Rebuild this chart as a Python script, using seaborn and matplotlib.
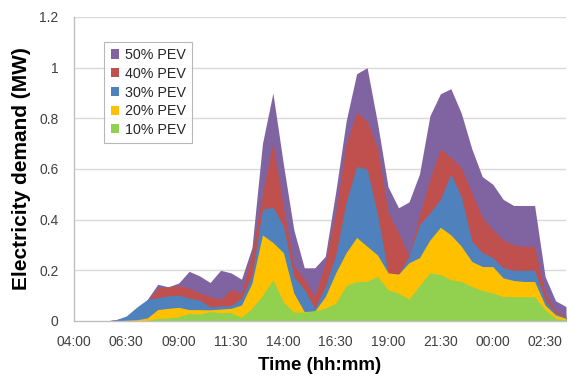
import matplotlib
matplotlib.use("Agg")
import matplotlib.pyplot as plt
from matplotlib.patches import Patch
import seaborn as sns
import pandas as pd

times = ["04:00", "04:30", "05:00", "05:30", "06:00", "06:30", "07:00", "07:30",
         "08:00", "08:30", "09:00", "09:30", "10:00", "10:30", "11:00", "11:30",
         "12:00", "12:30", "13:00", "13:30", "14:00", "14:30", "15:00", "15:30",
         "16:00", "16:30", "17:00", "17:30", "18:00", "18:30", "19:00", "19:30",
         "20:00", "20:30", "21:00", "21:30", "22:00", "22:30", "23:00", "23:30",
         "00:00", "00:30", "01:00", "01:30", "02:00", "02:30", "03:00", "03:30"]

pev50 = [0, 0, 0, 0, 0.005, 0.015, 0.04, 0.085, 0.145, 0.135, 0.15, 0.196,
         0.178, 0.152, 0.2, 0.19, 0.165, 0.29, 0.7, 0.9, 0.62, 0.36,
         0.21, 0.21, 0.255, 0.51, 0.79, 0.976, 1.0, 0.78, 0.53, 0.447,
         0.47, 0.58, 0.81, 0.897, 0.917, 0.82, 0.68, 0.57, 0.54, 0.48,
         0.456, 0.456, 0.456, 0.176, 0.08, 0.057]
pev40 = [0, 0, 0, 0, 0.005, 0.012, 0.035, 0.075, 0.13, 0.135, 0.14, 0.13,
         0.11, 0.096, 0.085, 0.125, 0.11, 0.27, 0.5, 0.705, 0.45, 0.22,
         0.165, 0.096, 0.23, 0.43, 0.70, 0.824, 0.79, 0.685, 0.43, 0.348,
         0.255, 0.42, 0.56, 0.68, 0.645, 0.605, 0.507, 0.41, 0.36, 0.32,
         0.3, 0.295, 0.295, 0.11, 0.04, 0.02]
pev30 = [0, 0, 0, 0, 0.005, 0.02, 0.055, 0.085, 0.092, 0.099, 0.102, 0.09,
         0.083, 0.055, 0.06, 0.06, 0.09, 0.18, 0.44, 0.45, 0.375, 0.175,
         0.125, 0.05, 0.136, 0.26, 0.47, 0.61, 0.6, 0.42, 0.19, 0.185,
         0.255, 0.38, 0.427, 0.48, 0.58, 0.49, 0.315, 0.27, 0.25, 0.21,
         0.2, 0.2, 0.2, 0.083, 0.03, 0.015]
pev20 = [0, 0, 0, 0, 0, 0.003, 0.005, 0.012, 0.045, 0.05, 0.054, 0.045,
         0.045, 0.044, 0.047, 0.05, 0.063, 0.15, 0.34, 0.31, 0.27, 0.11,
         0.037, 0.04, 0.096, 0.19, 0.27, 0.33, 0.295, 0.26, 0.19, 0.185,
         0.23, 0.25, 0.32, 0.37, 0.34, 0.295, 0.235, 0.215, 0.215, 0.17,
         0.16, 0.156, 0.156, 0.063, 0.024, 0.01]
pev10 = [0, 0, 0, 0, 0, 0, 0, 0.002, 0.01, 0.012, 0.017, 0.03,
         0.027, 0.037, 0.033, 0.033, 0.015, 0.05, 0.1, 0.163, 0.075, 0.035,
         0.035, 0.04, 0.05, 0.07, 0.14, 0.156, 0.156, 0.176, 0.123, 0.11,
         0.086, 0.14, 0.19, 0.183, 0.163, 0.156, 0.136, 0.12, 0.11, 0.096,
         0.096, 0.096, 0.096, 0.044, 0.01, 0.005]

series_names = ["50% PEV", "40% PEV", "30% PEV", "20% PEV", "10% PEV"]
series_values = [pev50, pev40, pev30, pev20, pev10]
colors = ["#8064A2", "#C0504D", "#4F81BD", "#FFC000", "#92D050"]
yticks = [0, 0.2, 0.4, 0.6, 0.8, 1.0, 1.2]
ytick_labels = ["0", "0.2", "0.4", "0.6", "0.8", "1", "1.2"]

df = pd.DataFrame({"time": times})
for n, v in zip(series_names, series_values):
    df[n] = v
df["idx"] = range(len(times))

sns.set_theme(style="white")
plt.rcParams["font.family"] = ["Liberation Sans", "DejaVu Sans"]

fig = plt.figure(figsize=(5.68, 3.78), dpi=100)
ax = fig.add_axes([74 / 568, 57 / 378, 492 / 568, 304 / 378])

for n, c in zip(series_names, colors):
    ax.fill_between(df["idx"], 0, df[n], color=c, linewidth=0, zorder=2)

ax.set_xlim(0, len(times) - 1)
ax.set_ylim(0, 1.2)
ax.set_yticks(yticks)
ax.set_yticklabels(ytick_labels)
tick_pos = list(range(0, len(times), 5))
ax.set_xticks(tick_pos)
ax.set_xticklabels([times[i] for i in tick_pos])
ax.tick_params(axis="both", length=0, labelsize=10, colors="#404040")
ax.tick_params(axis="x", pad=10)
ax.tick_params(axis="y", pad=11)

for y in yticks[1:]:
    ax.axhline(y, color="#D9D9D9", linewidth=1.0, zorder=1)

for side in ["top", "right"]:
    ax.spines[side].set_visible(False)
for side in ["left", "bottom"]:
    ax.spines[side].set_color("#BFBFBF")
    ax.spines[side].set_linewidth(1.0)
    ax.spines[side].set_zorder(3)

ax.set_xlabel("Time (hh:mm)", fontsize=13.5, fontweight="bold", color="black", labelpad=6)
ax.set_ylabel("Electricity demand (MW)", fontsize=15, fontweight="bold", color="black", labelpad=6)

handles = [Patch(facecolor=c, edgecolor="none", label=n) for n, c in zip(series_names, colors)]
leg = ax.legend(handles=handles, loc="upper left", bbox_to_anchor=(0.0616, 0.919),
                borderaxespad=0, frameon=True, fancybox=False, fontsize=10.3,
                handlelength=0.6, handleheight=0.6, handletextpad=0.4,
                labelspacing=0.33, borderpad=0.45)
leg.get_frame().set_edgecolor("#A6A6A6")
leg.get_frame().set_linewidth(0.8)
for t in leg.get_texts():
    t.set_color("#262626")

fig.savefig("out.png", dpi=100)
